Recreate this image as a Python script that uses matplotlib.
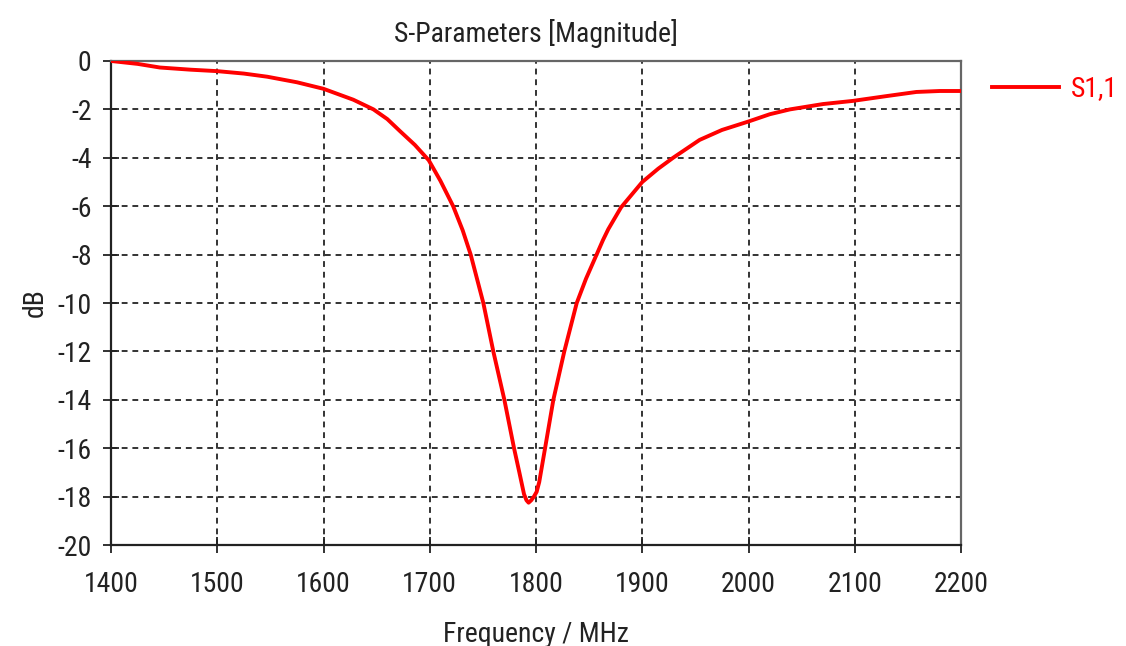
import matplotlib
matplotlib.use("Agg")
import matplotlib.pyplot as plt

freq_mhz = [1400, 1425, 1446, 1475, 1500, 1525, 1547, 1575, 1600, 1628, 1647, 1660,
            1672, 1686, 1699, 1710, 1722, 1731, 1738.5, 1750.4, 1759.8, 1770.2, 1779.3,
            1784.3, 1788.7, 1791, 1793, 1795.5, 1798, 1800.6, 1803, 1808.5, 1816.3,
            1826.6, 1838.3, 1847, 1857, 1863, 1868, 1880, 1900, 1915, 1929, 1954, 1975,
            2000, 2020, 2039, 2070, 2098, 2130, 2158, 2180, 2200]
s11_db = [0.0, -0.12, -0.27, -0.36, -0.42, -0.52, -0.65, -0.88, -1.15, -1.6, -2.0, -2.4,
          -2.9, -3.47, -4.1, -4.95, -6.0, -7.0, -8.0, -10.0, -12.0, -14.0, -16.0,
          -17.0, -17.9, -18.15, -18.25, -18.15, -18.0, -17.8, -17.4, -16.0, -14.0,
          -12.0, -10.0, -9.0, -8.0, -7.4, -6.95, -6.05, -5.0, -4.45, -4.0, -3.26, -2.85,
          -2.5, -2.2, -2.0, -1.78, -1.65, -1.45, -1.28, -1.24, -1.24]
x_ticks = [1400, 1500, 1600, 1700, 1800, 1900, 2000, 2100, 2200]
y_ticks = list(range(-20, 1, 2))

FAM = ["Roboto Condensed", "DejaVu Sans"]
FONT = dict(family=FAM, size=20)
TXT = "#222222"

fig = plt.figure(figsize=(11.26, 6.46), dpi=100)
ax = fig.add_axes([0.0986, 0.1563, 0.7549, 0.7493])

ax.plot(freq_mhz, s11_db, color="#ff0000", lw=2.8, label="S1,1", zorder=3,
        solid_joinstyle="round")
ax.set_xlim(1400, 2200)
ax.set_ylim(-20, 0)
ax.set_xticks(x_ticks)
ax.set_yticks(y_ticks)
ax.set_xticklabels([str(t) for t in x_ticks], fontdict=FONT, color=TXT)
ax.set_yticklabels([str(t) for t in y_ticks], fontdict=FONT, color=TXT)
ax.tick_params(direction="inout", length=12, width=1.3, colors=TXT)
ax.tick_params(axis="x", pad=13)
ax.tick_params(axis="y", pad=8)
ax.grid(True, color="#333333", linestyle=(0, (3, 2.5)), linewidth=1.4)
for s in ["left", "bottom"]:
    ax.spines[s].set_color("#222222")
    ax.spines[s].set_linewidth(1.6)
for s in ["top", "right"]:
    ax.spines[s].set_color("#666666")
    ax.spines[s].set_linewidth(1.6)

ax.set_title("S-Parameters [Magnitude]", fontdict=FONT, color=TXT, pad=14)
ax.set_xlabel("Frequency / MHz", fontdict=FONT, color=TXT, labelpad=16)
ax.set_ylabel("dB", fontdict=FONT, color=TXT, labelpad=6)

leg = ax.legend(loc="center left", bbox_to_anchor=(0.881, 1 - 89 / 646),
                bbox_transform=fig.transFigure, frameon=False, borderpad=0,
                borderaxespad=0, handlelength=2.4, handletextpad=0.45,
                prop={"family": FAM, "size": 20}, labelcolor="#ff0000")

fig.savefig("out.png", dpi=100, facecolor="white")
